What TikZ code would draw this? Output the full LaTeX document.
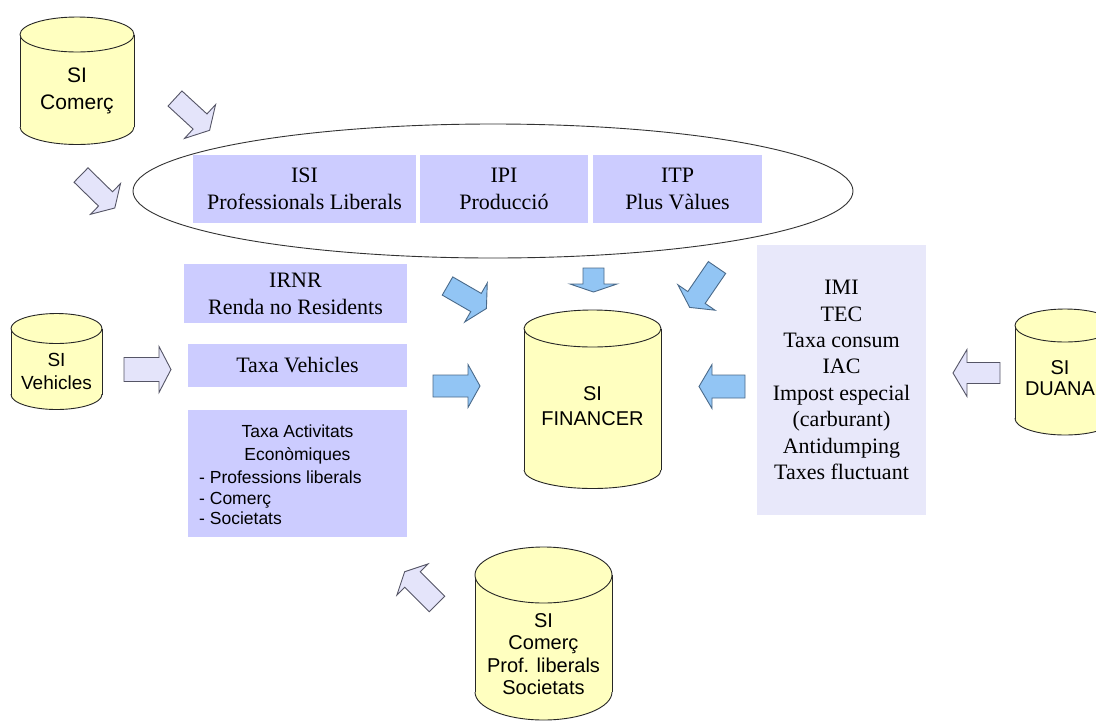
\documentclass[tikz,border=0pt]{standalone}
\usepackage{fontspec}
\setmainfont{Liberation Serif}
\setsansfont{Liberation Sans}
\usetikzlibrary{calc,shapes.geometric}
\definecolor{cylfill}{HTML}{FFFFC0}
\definecolor{boxfill}{HTML}{CCCCFF}
\definecolor{boxlight}{HTML}{E8E8FA}
\definecolor{arrlav}{HTML}{E4E4FA}
\definecolor{arrblue}{HTML}{92C5F4}
\definecolor{arrline}{HTML}{555566}
\definecolor{blueline}{HTML}{4A6A8A}

% block arrow: style, tail, tip, half shaft, half head, head length
\newcommand{\blockarr}[6]{%
  \path coordinate (ba-b) at ($(#3)!#6!(#2)$);
  \draw[#1] ($(#2)!#4!90:(#3)$) -- ($(ba-b)!#4!-90:(#2)$) -- ($(ba-b)!#5!-90:(#2)$) -- (#3)
    -- ($(ba-b)!#5!90:(#2)$) -- ($(ba-b)!#4!90:(#2)$) -- ($(#2)!#4!-90:(#3)$) -- cycle;
}
% cylinder: left, right, top ellipse centre y, bottom ellipse centre y, y radius
\newcommand{\drawcyl}[5]{%
  \pgfmathsetmacro\cylcx{(#1+#2)/2}%
  \pgfmathsetmacro\cylrx{(#2-#1)/2}%
  \fill[cylfill] (#1,#3) rectangle (#2,#4);
  \fill[cylfill] (\cylcx,#4) ellipse [x radius=\cylrx, y radius=#5];
  \draw[cylline] (#1,#3) -- (#1,#4) (#2,#3) -- (#2,#4);
  \begin{scope}
    \clip (#1-2,#4) rectangle (#2+2,#4+#5+3);
    \draw[cylline] (\cylcx,#4) ellipse [x radius=\cylrx, y radius=#5];
  \end{scope}
  \draw[cylline, fill=cylfill] (\cylcx,#3) ellipse [x radius=\cylrx, y radius=#5];
}

\tikzset{
  cylline/.style={draw=black!85, line width=0.9pt},
  cyltext/.style={font=\sffamily, align=center, inner sep=0pt},
  taxbox/.style={fill=boxfill, draw=none, inner sep=0pt, align=center,
    font=\fontsize{22}{27}\selectfont},
  lavarrow/.style={fill=arrlav, draw=arrline, line width=0.9pt, line join=miter},
  bluearrow/.style={fill=arrblue, draw=blueline, line width=0.9pt, line join=miter},
}

\begin{document}
\begin{tikzpicture}[x=1pt, y=-1pt]
\useasboundingbox (0,0) rectangle (1096,724);
\fill[white] (0,0) rectangle (1096,724);
\begin{scope}
\clip (0,0) rectangle (1096,724);

% group ellipse
\node[draw=black!80, line width=0.9pt, ellipse, minimum width=720pt, minimum height=134pt, inner sep=0pt] (group) at (493,191) {};

% boxes in the ellipse
\node[taxbox, minimum width=223pt, minimum height=68pt] (isi) at (304.5,189) {ISI\\Professionals Liberals};
\node[taxbox, minimum width=168pt, minimum height=68pt] (ipi) at (504,189) {IPI\\Producció};
\node[taxbox, minimum width=169pt, minimum height=68pt] (itp) at (677.5,189) {ITP\\Plus Vàlues};

% left boxes
\node[taxbox, minimum width=223pt, minimum height=59pt] (irnr) at (295.5,293.5) {IRNR\\Renda no Residents};
\node[taxbox, minimum width=219pt, minimum height=43pt] (taxveh) at (297.5,365.5) {Taxa Vehicles};
\node[taxbox, minimum width=219pt, minimum height=127pt] (taxact) at (297.5,473.5) {};
\node[cyltext, font=\sffamily\fontsize{17.5}{22.5}\selectfont] (taxact1) at (297.5,444.5) {Taxa Activitats\\Econòmiques};
\node[cyltext, align=left, anchor=west, font=\sffamily\fontsize{17.5}{20.5}\selectfont] (taxact2) at (199,498) {- Professions liberals\\- Comerç\\- Societats};

% right box
\node[taxbox, fill=boxlight, minimum width=169pt, minimum height=270pt,
  font=\fontsize{22}{26.4}\selectfont] (imi) at (841.5,380)
  {IMI\\TEC\\Taxa consum\\IAC\\Impost especial\\(carburant)\\Antidumping\\Taxes fluctuant};

% cylinders
\drawcyl{20}{134}{34.5}{127}{17.5}
\node[cyltext, font=\sffamily\fontsize{21}{27}\selectfont] (sicomerc) at (77,91) {SI\\Comerç};

\drawcyl{11}{102}{328.5}{394.5}{15}
\node[cyltext, font=\sffamily\fontsize{19}{23}\selectfont] (sivehicles) at (56.5,371) {SI\\Vehicles};

\drawcyl{524}{661}{328.5}{470}{18.5}
\node[cyltext, font=\sffamily\fontsize{20}{25}\selectfont] (sifinancer) at (592.5,406) {SI\\FINANCER};

\drawcyl{1015}{1115}{325.5}{418.5}{16.5}
\node[cyltext, font=\sffamily\fontsize{20}{20.5}\selectfont] (siduana) at (1060,378) {SI\\DUANA};

\drawcyl{475}{612}{575}{692}{28}
\node[cyltext, font=\sffamily\fontsize{20}{22.3}\selectfont] (sisoc) at (543.5,654) {SI\\Comerç\\Prof. liberals\\Societats};

% lavender arrows
\coordinate (a1t) at (175,98.5);   \coordinate (a1h) at (209.6,130.3);
\coordinate (a2t) at (81,175);     \coordinate (a2h) at (114.8,208);
\coordinate (a3t) at (124,369.5);  \coordinate (a3h) at (171,369.5);
\coordinate (a4t) at (1000,373);   \coordinate (a4h) at (953,373);
\coordinate (a5t) at (437,604);    \coordinate (a5h) at (404.7,571.7);
\blockarr{lavarrow}{a1t}{a1h}{10.25pt}{23pt}{13pt}
\blockarr{lavarrow}{a2t}{a2h}{10pt}{21.5pt}{13pt}
\blockarr{lavarrow}{a3t}{a3h}{12pt}{23pt}{12pt}
\blockarr{lavarrow}{a4t}{a4h}{10.5pt}{23.5pt}{14pt}
\blockarr{lavarrow}{a5t}{a5h}{11pt}{22pt}{11pt}

% blue arrows
\coordinate (b1t) at (447.5,286);  \coordinate (b1h) at (486.4,308.5);
\coordinate (b2t) at (593.5,268);  \coordinate (b2h) at (593.5,292);
\coordinate (b3t) at (717,267.5);  \coordinate (b3h) at (689.7,307.4);
\coordinate (b4t) at (433,386);    \coordinate (b4h) at (480,386);
\coordinate (b5t) at (745,386.5);  \coordinate (b5h) at (699,386.5);
\blockarr{bluearrow}{b1t}{b1h}{10.5pt}{22.5pt}{12pt}
\blockarr{bluearrow}{b2t}{b2h}{10.5pt}{23.5pt}{8pt}
\blockarr{bluearrow}{b3t}{b3h}{10.5pt}{22.5pt}{12pt}
\blockarr{bluearrow}{b4t}{b4h}{11pt}{21.5pt}{12pt}
\blockarr{bluearrow}{b5t}{b5h}{11.5pt}{22pt}{13pt}
\end{scope}
\end{tikzpicture}
\end{document}
